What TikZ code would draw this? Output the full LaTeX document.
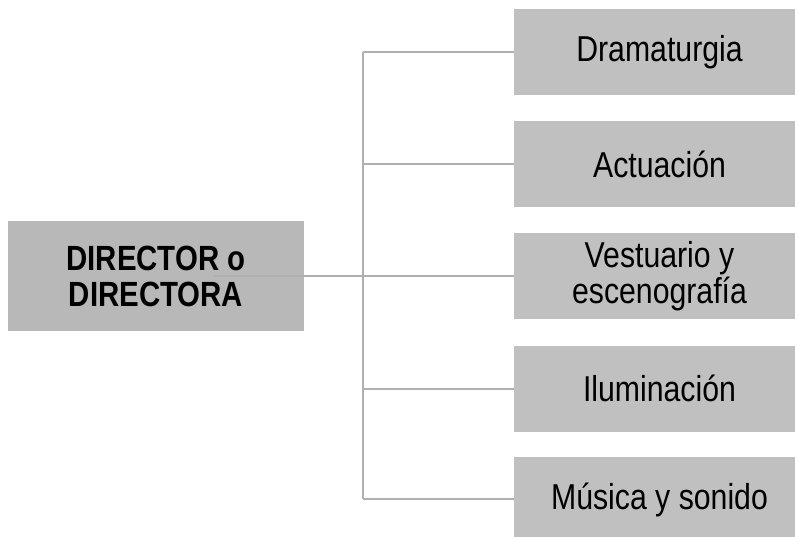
\documentclass[tikz,border=0pt]{standalone}
\usepackage{fontspec}
\setmainfont{Liberation Sans}[FakeStretch=0.84]
\definecolor{boxgray}{HTML}{C0C0C0}
\definecolor{leftgray}{HTML}{B8B8B8}
\definecolor{linegray}{HTML}{B0B0B0}
\begin{document}
\begin{tikzpicture}[x=1pt,y=-1pt,
  areabox/.style={fill=boxgray, draw=none, minimum width=291pt, minimum height=86pt,
    inner sep=0pt, align=center, font=\fontsize{36}{36}\selectfont},
  headbox/.style={fill=leftgray, draw=none, minimum width=296pt, minimum height=110pt,
    inner sep=0pt, align=center, font=\fontsize{35}{36}\selectfont\bfseries},
  link/.style={draw=linegray, line width=2pt}]
\clip (0,0) rectangle (795,537);
\useasboundingbox (0,0) rectangle (795,537);
\node[headbox] (dir) at (156,276) {DIRECTOR o\\DIRECTORA};
\node[areabox] (b1) at (659.5,52) {Dramaturgia};
\node[areabox] (b2) at (659.5,164) {Actuación};
\node[areabox] (b3) at (659.5,276) {Vestuario y\\escenografía};
\node[areabox] (b4) at (659.5,388.5) {Iluminación};
\node[areabox] (b5) at (659.5,500) {Música y sonido};
\coordinate (s) at (213,276);
\coordinate (j) at (363,276);
\coordinate (t1) at (363,52);
\coordinate (t2) at (363,164);
\coordinate (t4) at (363,388.5);
\coordinate (t5) at (363,499);
\draw[link] (s) -- (j);
\draw[link] (t1) -- (t5);
\draw[link] (t1) -- (b1.west);
\draw[link] (t2) -- (b2.west);
\draw[link] (j) -- (b3.west);
\draw[link] (t4) -- (b4.west);
\draw[link] (t5) -- (b5.west |- t5);
\end{tikzpicture}
\end{document}
